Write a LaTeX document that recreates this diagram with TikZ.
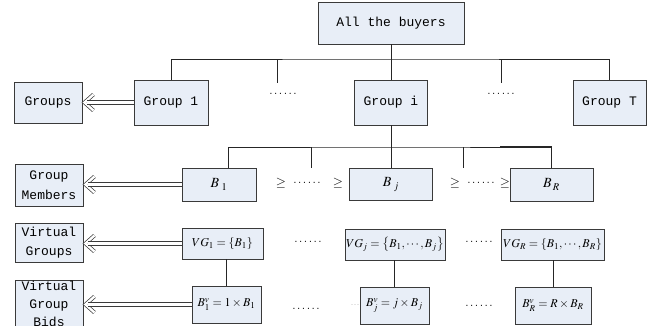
\documentclass[tikz,border=0pt]{standalone}
\usepackage{mathptmx}
\usepackage[no-math]{fontspec}
\setmainfont{Liberation Mono}
\definecolor{boxfill}{HTML}{E8EEF7}
\definecolor{boxline}{HTML}{3A3A3A}

\begin{document}
\begin{tikzpicture}[x=1pt,y=-1pt]
    \tikzstyle{block} = [rectangle, draw=boxline, fill=boxfill, line width=0.9pt, inner sep=0pt, align=center, font=\fontsize{13}{19.5}\selectfont]
    \tikzstyle{mathbox} = [block, font=\fontsize{12}{14}\selectfont]
    \tikzstyle{link} = [draw=black!85, line width=0.8pt]
    \tikzstyle{dblshaft} = [draw=boxline, double=white, double distance=3.5pt, line width=0.7pt, shorten >=3pt]
    \tikzstyle{chevron} = [draw=boxline, double=white, double distance=2.4pt, line width=0.7pt, line join=miter]
    \tikzstyle{ellip} = [font=\fontsize{8}{9}\selectfont, inner sep=0pt]
    \tikzstyle{rel} = [font=\fontsize{13}{14}\selectfont, inner sep=0pt]
    \useasboundingbox (0,0) rectangle (656,326);

    % groups
    \node (buyers) [block, minimum width=146pt, minimum height=42pt] at (391,23) {All the buyers};
    \node (groups) [block, minimum width=68pt, minimum height=41pt] at (48,102.5) {Groups};
    \node (group1) [block, minimum width=74pt, minimum height=45pt] at (171,102.5) {Group 1};
    \node (groupi) [block, minimum width=73pt, minimum height=45pt] at (391,102.5) {Group i};
    \node (groupT) [block, minimum width=73pt, minimum height=45pt] at (609.5,102.5) {Group T};
    \node (etc1) [ellip] at (283,94) {......};
    \node (etc2) [ellip] at (501,94) {......};

    % group members
    \node (members) [block, minimum width=68pt, minimum height=42pt] at (49,185) {Group\\Members};
    \node (b1) [mathbox, font=\fontsize{14}{16}\selectfont, minimum width=74pt, minimum height=33pt] at (219,184.5) {$B_{\;1}$};
    \node (bj) [mathbox, font=\fontsize{14}{16}\selectfont, minimum width=83pt, minimum height=32pt] at (391,184.5) {$B_{\;j}$};
    \node (bR) [mathbox, font=\fontsize{14}{16}\selectfont, minimum width=83pt, minimum height=33pt] at (551.5,184.5) {$B_{\,R}$};
    \node (geq1) [rel] at (281,183) {$\geq$};
    \node (etc3) [ellip] at (307,183) {......};
    \node (geq2) [rel] at (338,183) {$\geq$};
    \node (geq3) [rel] at (455,183) {$\geq$};
    \node (etc4) [ellip] at (481,183) {......};
    \node (geq4) [rel] at (505,183) {$\geq$};

    % virtual groups
    \node (vgroups) [block, minimum width=68pt, minimum height=39pt] at (49,242.5) {Virtual\\Groups};
    \node (vg1) [mathbox, minimum width=81pt, minimum height=31pt] at (222.5,243.5) {$VG_1=\left\{B_1\right\}$};
    \node (vgj) [mathbox, minimum width=100pt, minimum height=31pt] at (395,244.5) {$VG_j=\left\{B_1,\cdots,B_j\right\}$};
    \node (vgR) [mathbox, minimum width=103pt, minimum height=31pt] at (552.5,244.5) {$VG_R=\left\{B_1,\cdots,B_R\right\}$};
    \node (etc5) [ellip] at (308,242) {......};
    \node (etc6) [ellip] at (479,242) {......};

    % virtual group bids
    \node (bids) [block, font=\fontsize{13}{18}\selectfont, minimum width=68pt, minimum height=41pt] at (49,303.5) {Virtual\\Group\\Bids};
    \node (b1v) [mathbox, minimum width=69pt, minimum height=37pt] at (226.5,304.5) {$B_1^v=1\times B_1$};
    \node (bjv) [mathbox, minimum width=69pt, minimum height=37pt] at (394.5,305.5) {$B_j^v=j\times B_j$};
    \node (bRv) [mathbox, minimum width=76pt, minimum height=37pt] at (553,305.5) {$B_R^v=R\times B_R$};
    \node (etc7) [ellip] at (306,309) {......};
    \node (etc8) [ellip] at (479,306) {......};
    \node (etc9) [ellip, font=\fontsize{5}{6}\selectfont, text=black!50] at (355,305) {...};

    % top tree
    \coordinate (bus1) at (391,59);
    \coordinate (stub1) at (277,83);
    \coordinate (stub2) at (501,83);
    \draw [link] (buyers) -- (groupi);
    \draw [link] (group1.north) |- (bus1) -| (groupT.north);
    \draw [link] (stub1) -- (stub1 |- bus1);
    \draw [link] (stub2) -- (stub2 |- bus1);

    % member tree
    \coordinate (bus2) at (391,147);
    \coordinate (b1top) at (228,168);
    \coordinate (stub3) at (311,168);
    \coordinate (stub4) at (463,168);
    \coordinate (heavy) at (500,147);
    \draw [link] (groupi) -- (bj);
    \draw [link] (b1top) |- (bus2) -| (bR.north);
    \draw [link] (stub3) -- (stub3 |- bus2);
    \draw [link] (stub4) -- (stub4 |- bus2);
    \draw [link, line width=1.6pt] (heavy) -- (bR.north |- bus2);

    % virtual links
    \draw [link] (vg1.south -| b1v.north) -- (b1v.north);
    \draw [link] (vgj.south -| bjv.north) -- (bjv.north);
    \draw [link] (vgR.south -| bRv.north) -- (bRv.north);

    % arrows to the labels
    \coordinate (tip1) at ([xshift=2pt]groups.east |- group1.west);
    \coordinate (tip2) at ([xshift=2pt]members.east |- b1.west);
    \coordinate (tip3) at ([xshift=2pt]vgroups.east |- vg1.west);
    \coordinate (tip4) at ([xshift=2pt]bids.east |- b1v.west);
    \foreach \t in {tip1,tip2,tip3,tip4}
        \draw [chevron] (\t) ++(9,-8) -- (\t) -- ++(9,8);
    \draw [dblshaft] (group1.west) -- (tip1);
    \draw [dblshaft] (b1.west) -- (tip2);
    \draw [dblshaft] (vg1.west) -- (tip3);
    \draw [dblshaft] (b1v.west) -- (tip4);
\end{tikzpicture}
\end{document}
